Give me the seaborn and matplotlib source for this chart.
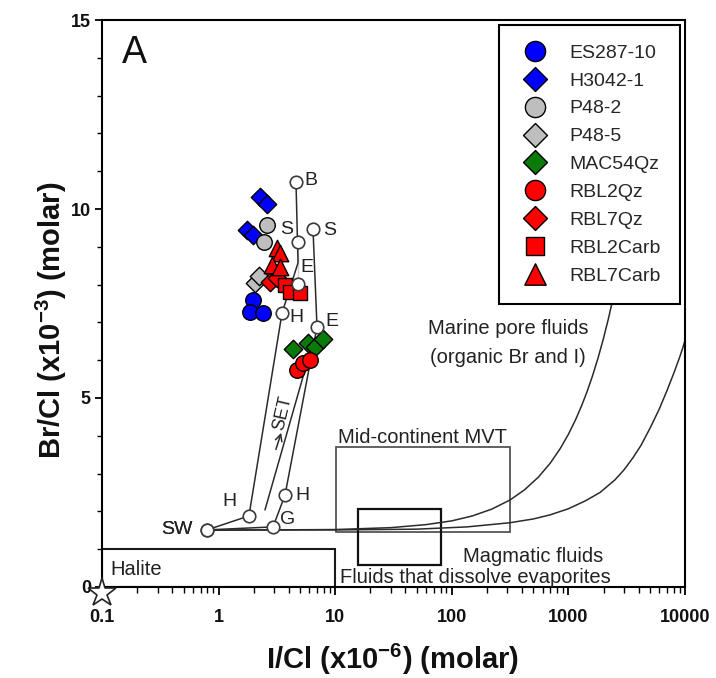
import numpy as np
import pandas as pd
import matplotlib
matplotlib.use("Agg")
import matplotlib.pyplot as plt
import seaborn as sns
from matplotlib.patches import Rectangle
from matplotlib.ticker import LogLocator, NullFormatter, MultipleLocator

# ---------------- data ----------------
# fluid inclusion analyses: I/Cl (x10^-6, molar) and Br/Cl (x10^-3, molar)
samples = ["ES287-10", "H3042-1", "P48-2", "P48-5", "MAC54Qz",
           "RBL2Qz", "RBL7Qz", "RBL2Carb", "RBL7Carb"]

es287_icl = [1.97, 1.86, 2.40]
es287_brcl = [7.59, 7.28, 7.25]
h3042_icl = [2.26, 2.60, 1.75, 1.97]
h3042_brcl = [10.32, 10.13, 9.44, 9.31]
p482_icl = [2.60, 2.45]
p482_brcl = [9.58, 9.13]
p485_icl = [2.05, 2.20]
p485_brcl = [8.04, 8.23]
mac54_icl = [4.35, 5.85, 6.70, 7.90]
mac54_brcl = [6.30, 6.45, 6.35, 6.55]
rbl2qz_icl = [4.70, 5.29, 6.08]
rbl2qz_brcl = [5.74, 5.93, 6.01]
rbl7qz_icl = [2.76, 3.17]
rbl7qz_brcl = [8.07, 8.17]
rbl2carb_icl = [3.71, 4.09, 4.99]
rbl2carb_brcl = [7.99, 7.80, 7.78]
rbl7carb_icl = [3.17, 3.36, 2.87, 3.36]
rbl7carb_brcl = [8.97, 8.84, 8.52, 8.47]

# seawater evaporation trajectories (SW = seawater, H, G, E, S, B stages)
path1_labels = ["SW", "H", "H", "E", "S", "B"]
path1_icl = [0.795, 1.82, 3.50, 4.80, 4.80, 4.61]
path1_brcl = [1.51, 1.88, 7.25, 8.02, 9.13, 10.71]
path2_labels = ["SW", "G", "H", "E", "S"]
path2_icl = [0.795, 2.93, 3.71, 6.98, 6.45]
path2_brcl = [1.51, 1.59, 2.43, 6.88, 9.47]
set_line_icl = [2.50, 5.50]
set_line_brcl = [2.04, 5.74]
set_arrow_icl = [3.05, 3.50]
set_arrow_brcl = [3.57, 4.15]

# mixing curves toward marine pore fluids (organic Br and I)
curve1_icl = [0.795, 10, 30, 60, 100, 150, 220, 315, 420, 550, 700, 850,
              1000, 1150, 1300, 1450, 1600, 1800, 2000, 2200, 2400, 2700, 3000]
curve1_brcl = [1.50, 1.52, 1.57, 1.65, 1.75, 1.88, 2.06, 2.30, 2.57, 2.90,
               3.28, 3.66, 4.04, 4.42, 4.80, 5.18, 5.56, 6.07, 6.58, 7.09,
               7.60, 8.36, 9.12]
curve2_icl = [0.795, 10, 50, 135, 315, 500, 700, 1000, 1400, 1866, 2500,
              3000, 3581, 4200, 5010, 6000, 7015, 8000, 9000, 9620, 11000]
curve2_brcl = [1.51, 1.51, 1.53, 1.59, 1.70, 1.80, 1.91, 2.07, 2.28, 2.50,
               2.83, 3.10, 3.42, 3.75, 4.20, 4.70, 5.20, 5.65, 6.08, 6.35, 6.95]

# reference fields: (I/Cl min, I/Cl max, Br/Cl min, Br/Cl max)
halite_field = [0.1, 10.0, 0.0, 1.0]
mvt_field = [10.1, 316.0, 1.455, 3.70]
magmatic_field = [15.8, 80.3, 0.58, 2.06]
halite_point = [0.1, -0.15]

x_ticks = [0.1, 1, 10, 100, 1000, 10000]
x_tick_labels = ["0.1", "1", "10", "100", "1000", "10000"]
y_ticks = [0, 5, 10, 15]

# ---------------- style ----------------
sns.set_theme(style="ticks")
plt.rcParams["font.family"] = ["Liberation Sans", "DejaVu Sans"]
plt.rcParams["mathtext.fontset"] = "custom"
plt.rcParams["mathtext.rm"] = "Liberation Sans:bold"
plt.rcParams["mathtext.it"] = "Liberation Sans:bold:italic"
plt.rcParams["mathtext.bf"] = "Liberation Sans:bold"

fig = plt.figure(figsize=(7.16, 6.78), dpi=100)
ax = fig.add_axes([0.14246, 0.13422, 0.81425, 0.83628])
ax.set_xscale("log")

# ---------------- fields ----------------
for (x0, x1, y0, y1), ec, lw in [(halite_field, "#1a1a1a", 1.5),
                                 (mvt_field, "#555555", 1.3),
                                 (magmatic_field, "#111111", 1.6)]:
    ax.add_patch(Rectangle((x0, y0), x1 - x0, y1 - y0, fill=False,
                           edgecolor=ec, linewidth=lw, zorder=1.5))

# ---------------- curves & trajectories ----------------
line_kw = dict(color="#2b2b2b", linewidth=1.1, zorder=2)
sns.lineplot(x=curve1_icl, y=curve1_brcl, sort=False, ax=ax, **line_kw)
sns.lineplot(x=curve2_icl, y=curve2_brcl, sort=False, ax=ax, **line_kw)
sns.lineplot(x=path1_icl, y=path1_brcl, sort=False, ax=ax, **line_kw)
sns.lineplot(x=path2_icl, y=path2_brcl, sort=False, ax=ax, **line_kw)
sns.lineplot(x=set_line_icl, y=set_line_brcl, sort=False, ax=ax, **line_kw)

ax.annotate("", xy=(set_arrow_icl[1], set_arrow_brcl[1]),
            xytext=(set_arrow_icl[0], set_arrow_brcl[0]),
            arrowprops=dict(arrowstyle="->", color="#2b2b2b", lw=1.1,
                            mutation_scale=12), zorder=2)
ax.text(3.56, 4.6, "SET", rotation=77, fontsize=13, ha="center", va="center",
        color="#222222", zorder=5)

# ---------------- samples ----------------
sample_icl = [es287_icl, h3042_icl, p482_icl, p485_icl, mac54_icl,
              rbl2qz_icl, rbl7qz_icl, rbl2carb_icl, rbl7carb_icl]
sample_brcl = [es287_brcl, h3042_brcl, p482_brcl, p485_brcl, mac54_brcl,
               rbl2qz_brcl, rbl7qz_brcl, rbl2carb_brcl, rbl7carb_brcl]
df = pd.concat([pd.DataFrame({"icl": xs, "brcl": ys, "sample": name})
                for name, xs, ys in zip(samples, sample_icl, sample_brcl)],
               ignore_index=True)

palette = {"ES287-10": "#0000FF", "H3042-1": "#0000FF", "P48-2": "#BEBEBE",
           "P48-5": "#BEBEBE", "MAC54Qz": "#0A7A0A", "RBL2Qz": "#FF0000",
           "RBL7Qz": "#FF0000", "RBL2Carb": "#FF0000", "RBL7Carb": "#FF0000"}
marker_map = {"ES287-10": "o", "H3042-1": "D", "P48-2": "o", "P48-5": "D",
              "MAC54Qz": "D", "RBL2Qz": "o", "RBL7Qz": "D", "RBL2Carb": "s",
              "RBL7Carb": "^"}
marker_size = {"o": 125, "D": 88, "s": 100, "^": 140}

for name in samples:
    m = marker_map[name]
    sns.scatterplot(data=df[df["sample"] == name], x="icl", y="brcl",
                    marker=m, color=palette[name], s=marker_size[m],
                    edgecolor="black", linewidth=1.0, label=name,
                    legend=False, zorder=3, ax=ax)

# trajectory nodes and labels
node_offsets1 = [(-30, 0), (-19, 14), (14, -5), (9, 16), (-11, 12), (15, 2)]
node_offsets2 = [(-30, 0), (15, 7), (17, 0), (15, 5), (17, -1)]
for xs, ys, labs, offs in [(path1_icl, path1_brcl, path1_labels, node_offsets1),
                           (path2_icl, path2_brcl, path2_labels, node_offsets2)]:
    ax.plot(xs, ys, linestyle="none", marker="o", markersize=9,
            markerfacecolor="white", markeredgecolor="#3a3a3a",
            markeredgewidth=1.2, zorder=4)
    for x, y, lab, (dx, dy) in zip(xs, ys, labs, offs):
        ax.annotate(lab, xy=(x, y), xytext=(dx, dy), textcoords="offset pixels",
                    ha="center", va="center", fontsize=14, color="#222222",
                    zorder=5)

ax.plot([halite_point[0]], [halite_point[1]], marker="*", markersize=21,
        markerfacecolor="white", markeredgecolor="#222222",
        markeredgewidth=1.2, linestyle="none", clip_on=False, zorder=6)

# ---------------- region labels ----------------
txt_kw = dict(fontsize=14.5, color="#222222", zorder=5)
ax.text(0.117, 0.45, "Halite", ha="left", va="center", **txt_kw)
ax.text(10.6, 3.82, "Mid-continent MVT", ha="left", va="baseline", **txt_kw)
ax.text(125, 0.82, "Magmatic fluids", ha="left", va="center", **txt_kw)
ax.text(11.0, 0.24, "Fluids that dissolve evaporites", ha="left",
        va="center", **txt_kw)
ax.text(303, 6.83, "Marine pore fluids", ha="center", va="center", **txt_kw)
ax.text(300, 6.08, "(organic Br and I)", ha="center", va="center", **txt_kw)
ax.text(0.0343, 0.924, "A", transform=ax.transAxes, fontsize=27,
        ha="left", va="baseline", color="#111111")

# ---------------- axes ----------------
ax.set_xlim(0.1, 10000)
ax.set_ylim(0, 15)
ax.set_xticks(x_ticks)
ax.set_xticklabels(x_tick_labels)
ax.xaxis.set_minor_locator(LogLocator(base=10, subs=np.arange(2, 10)))
ax.xaxis.set_minor_formatter(NullFormatter())
ax.set_yticks(y_ticks)
ax.yaxis.set_minor_locator(MultipleLocator(1))
ax.tick_params(axis="x", which="major", direction="out", length=6,
               width=1.3, labelsize=13, color="black", pad=10)
ax.tick_params(axis="x", which="minor", direction="out", length=4,
               width=1.0, color="black")
ax.tick_params(axis="y", which="major", direction="out", length=5,
               width=1.3, labelsize=13, color="black", pad=3)
ax.tick_params(axis="y", which="minor", direction="out", length=3.5,
               width=1.0, color="black")
for lab in ax.get_xticklabels() + ax.get_yticklabels():
    lab.set_fontweight("bold")
    lab.set_color("#111111")
for sp in ax.spines.values():
    sp.set_visible(True)
    sp.set_linewidth(1.5)
    sp.set_color("black")

ax.set_xlabel("I/Cl (x10$^{-6}$) (molar)", fontsize=21, fontweight="bold",
              color="#111111")
ax.set_ylabel("Br/Cl (x10$^{-3}$) (molar)", fontsize=21, fontweight="bold",
              color="#111111")
ax.xaxis.set_label_coords(0.499, -0.096)
ax.yaxis.set_label_coords(-0.057, 0.47)

leg = ax.legend(loc="upper right", bbox_to_anchor=(0.992, 0.992),
                borderaxespad=0, frameon=True, fancybox=False,
                edgecolor="black", framealpha=1, facecolor="white",
                fontsize=14, markerscale=1.3, handlelength=1.72,
                handletextpad=0.9, borderpad=1.0, labelspacing=0.53,
                scatterpoints=1, scatteryoffsets=[0.5])
leg.get_frame().set_linewidth(1.5)
leg.set_zorder(10)

fig.savefig("out.png", dpi=100)
